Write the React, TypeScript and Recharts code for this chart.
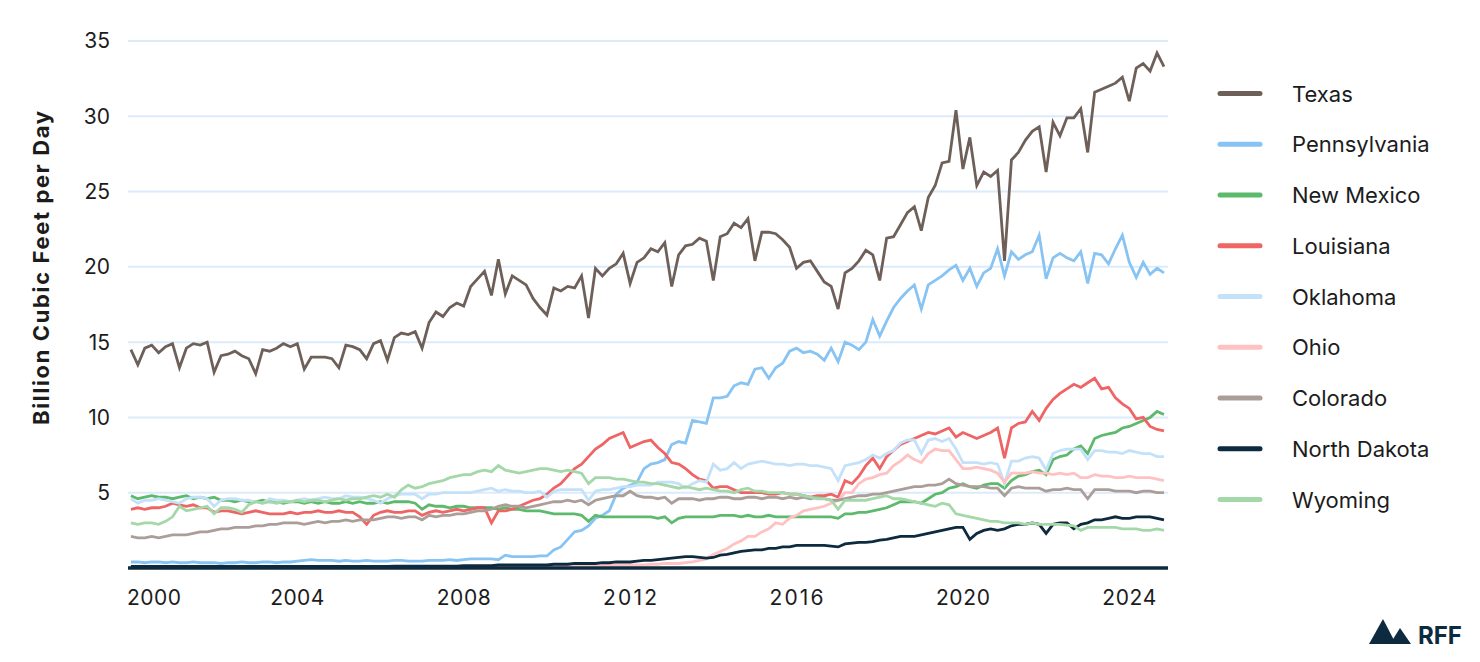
import React from 'react';
import { LineChart, Line, XAxis, YAxis, CartesianGrid } from 'recharts';

// monthly production sampled every 2 months, Jan 2000 onward (Bcf/d)
const START_YEAR = 2000;
const STEP_MONTHS = 2;

const texas = [
  14.5, 13.5, 14.6, 14.8, 14.3, 14.7, 14.9, 13.3, 14.6, 14.9, 14.8, 15.0,
  13.0, 14.1, 14.2, 14.4, 14.1, 13.9, 12.9, 14.5, 14.4, 14.6, 14.9, 14.7,
  14.9, 13.2, 14.0, 14.0, 14.0, 13.9, 13.3, 14.8, 14.7, 14.5, 13.9, 14.9,
  15.1, 13.8, 15.3, 15.6, 15.5, 15.7, 14.6, 16.3, 17.0, 16.7, 17.3, 17.6,
  17.4, 18.7, 19.2, 19.7, 18.1, 20.5, 18.2, 19.4, 19.1, 18.8, 17.9, 17.3,
  16.8, 18.6, 18.4, 18.7, 18.6, 19.4, 16.6, 19.9, 19.4, 19.9, 20.2, 20.9,
  18.9, 20.3, 20.6, 21.2, 21.0, 21.6, 18.7, 20.8, 21.4, 21.5, 21.9, 21.7,
  19.1, 22.0, 22.2, 22.9, 22.6, 23.2, 20.4, 22.3, 22.3, 22.2, 21.8, 21.3,
  19.9, 20.3, 20.4, 19.7, 19.0, 18.7, 17.2, 19.6, 19.9, 20.4, 21.1, 20.8,
  19.1, 21.9, 22.0, 22.8, 23.6, 24.0, 22.4, 24.6, 25.4, 26.9, 27.0, 30.4,
  26.5, 28.6, 25.4, 26.3, 26.0, 26.4, 20.4, 27.1, 27.6, 28.4, 29.0, 29.3,
  26.3, 29.6, 28.7, 29.9, 29.9, 30.5, 27.6, 31.6, 31.8, 32.0, 32.2, 32.6,
  31.0, 33.2, 33.5, 33.0, 34.2, 33.3,
];

const pennsylvania = [
  0.4, 0.4, 0.35, 0.4, 0.4, 0.35, 0.4, 0.35, 0.35, 0.4, 0.35, 0.35,
  0.35, 0.3, 0.35, 0.35, 0.4, 0.35, 0.35, 0.4, 0.4, 0.35, 0.4, 0.4,
  0.45, 0.5, 0.55, 0.5, 0.5, 0.5, 0.45, 0.5, 0.45, 0.45, 0.5, 0.45,
  0.45, 0.45, 0.5, 0.5, 0.45, 0.45, 0.45, 0.5, 0.5, 0.5, 0.55, 0.5,
  0.55, 0.6, 0.6, 0.6, 0.6, 0.55, 0.85, 0.75, 0.75, 0.75, 0.75, 0.8,
  0.8, 1.2, 1.4, 1.9, 2.4, 2.5, 2.8, 3.3, 3.5, 3.8, 4.9, 5.3,
  5.5, 5.7, 6.6, 6.9, 7.0, 7.2, 8.2, 8.4, 8.3, 9.8, 9.7, 9.6,
  11.3, 11.3, 11.4, 12.1, 12.3, 12.2, 13.2, 13.3, 12.6, 13.3, 13.6, 14.4,
  14.6, 14.3, 14.4, 14.2, 13.8, 14.6, 13.7, 15.0, 14.8, 14.5, 15.0, 16.5,
  15.4, 16.4, 17.3, 17.9, 18.4, 18.8, 17.2, 18.8, 19.1, 19.4, 19.8, 20.1,
  19.1, 19.9, 18.7, 19.6, 19.9, 21.2, 19.4, 21.0, 20.5, 20.8, 21.0, 22.1,
  19.2, 20.6, 20.9, 20.6, 20.4, 21.0, 18.9, 20.9, 20.8, 20.2, 21.2, 22.1,
  20.3, 19.3, 20.3, 19.5, 19.9, 19.6,
];

const newMexico = [
  4.8, 4.6, 4.7, 4.8, 4.7, 4.7, 4.6, 4.7, 4.8, 4.6, 4.7, 4.6,
  4.7, 4.5, 4.5, 4.4, 4.5, 4.4, 4.4, 4.5, 4.4, 4.4, 4.3, 4.4,
  4.4, 4.3, 4.4, 4.3, 4.4, 4.3, 4.3, 4.4, 4.3, 4.4, 4.3, 4.3,
  4.4, 4.3, 4.4, 4.4, 4.4, 4.3, 3.9, 4.2, 4.1, 4.1, 4.0, 4.1,
  4.1, 4.0, 4.0, 4.0, 4.0, 3.9, 4.0, 3.9, 3.9, 3.8, 3.8, 3.8,
  3.7, 3.6, 3.6, 3.6, 3.6, 3.5, 3.1, 3.5, 3.4, 3.4, 3.4, 3.4,
  3.4, 3.4, 3.4, 3.4, 3.3, 3.4, 3.0, 3.3, 3.4, 3.4, 3.4, 3.4,
  3.4, 3.5, 3.5, 3.5, 3.4, 3.5, 3.4, 3.4, 3.5, 3.4, 3.4, 3.4,
  3.4, 3.4, 3.4, 3.4, 3.4, 3.4, 3.3, 3.6, 3.6, 3.7, 3.7, 3.8,
  3.9, 4.0, 4.2, 4.4, 4.4, 4.4, 4.3, 4.6, 4.9, 5.0, 5.3, 5.4,
  5.6, 5.4, 5.3, 5.5, 5.6, 5.6, 5.3, 5.8, 6.1, 6.2, 6.4, 6.5,
  6.2, 7.2, 7.4, 7.5, 7.9, 8.1, 7.6, 8.6, 8.8, 8.9, 9.0, 9.3,
  9.4, 9.6, 9.8, 10.0, 10.4, 10.2,
];

const louisiana = [
  3.9, 4.0, 3.9, 4.0, 4.0, 4.1, 4.3, 4.2, 4.1, 4.2, 4.0, 4.0,
  3.7, 3.8, 3.8, 3.7, 3.6, 3.7, 3.8, 3.7, 3.6, 3.6, 3.6, 3.7,
  3.6, 3.7, 3.7, 3.8, 3.7, 3.7, 3.8, 3.7, 3.7, 3.4, 2.9, 3.5,
  3.7, 3.8, 3.7, 3.7, 3.8, 3.8, 3.5, 3.7, 3.8, 3.7, 3.8, 3.9,
  3.8, 3.9, 4.0, 4.0, 3.0, 3.8, 3.8, 3.9, 4.1, 4.3, 4.5, 4.6,
  4.9, 5.3, 5.6, 6.1, 6.6, 6.9, 7.4, 7.9, 8.2, 8.6, 8.8, 9.0,
  8.0, 8.2, 8.4, 8.5, 8.0, 7.6, 7.0, 6.9, 6.6, 6.2, 5.9, 5.8,
  5.3, 5.4, 5.4, 5.2, 5.0, 5.0, 5.0, 5.0, 4.9, 4.9, 5.0, 4.9,
  4.9, 4.8, 4.7, 4.8, 4.8, 4.9, 4.7, 5.8, 5.6, 6.1, 6.8, 7.3,
  6.6, 7.4, 7.8, 8.2, 8.4, 8.6, 8.8, 9.0, 8.9, 9.1, 9.3, 8.7,
  9.0, 8.8, 8.6, 8.8, 9.0, 9.3, 7.3, 9.3, 9.6, 9.7, 10.4, 9.8,
  10.6, 11.2, 11.6, 11.9, 12.2, 12.0, 12.3, 12.6, 11.9, 12.0, 11.3, 10.9,
  10.6, 9.9, 10.0, 9.4, 9.2, 9.1,
];

const oklahoma = [
  4.6, 4.3, 4.5, 4.5, 4.6, 4.5, 4.4, 4.3, 4.6, 4.7, 4.7, 4.6,
  4.1, 4.5, 4.6, 4.6, 4.5, 4.5, 4.4, 4.3, 4.6, 4.5, 4.5, 4.4,
  4.5, 4.6, 4.5, 4.6, 4.7, 4.6, 4.6, 4.8, 4.7, 4.7, 4.6, 4.5,
  4.3, 4.6, 4.8, 4.9, 4.9, 4.9, 4.6, 4.9, 4.9, 5.0, 5.0, 5.0,
  5.0, 5.0, 5.1, 5.2, 5.3, 5.1, 5.2, 5.1, 5.1, 5.0, 5.0, 5.1,
  4.7, 5.1, 5.2, 5.2, 5.2, 5.2, 4.5, 5.1, 5.2, 5.2, 5.3, 5.4,
  5.4, 5.5, 5.5, 5.5, 5.7, 5.7, 5.7, 5.6, 5.3, 5.6, 5.8, 5.7,
  6.9, 6.5, 6.6, 7.0, 6.6, 6.9, 7.0, 7.1, 7.0, 6.9, 6.9, 6.8,
  6.9, 6.9, 6.8, 6.8, 6.7, 6.6, 5.8, 6.8, 6.9, 7.0, 7.2, 7.5,
  7.3, 7.6, 7.8, 8.3, 8.5, 8.5, 7.6, 8.5, 8.6, 8.4, 8.6, 7.9,
  7.0, 7.0, 7.0, 6.9, 7.0, 6.9, 5.6, 7.1, 7.1, 7.3, 7.4, 7.3,
  6.5, 7.6, 7.8, 7.9, 7.9, 7.9, 7.2, 7.8, 7.8, 7.7, 7.7, 7.6,
  7.8, 7.7, 7.6, 7.6, 7.4, 7.4,
];

const ohio = [
  0.1, 0.1, 0.1, 0.1, 0.1, 0.1, 0.1, 0.1, 0.1, 0.1, 0.1, 0.1,
  0.1, 0.1, 0.1, 0.1, 0.1, 0.1, 0.1, 0.1, 0.1, 0.1, 0.1, 0.1,
  0.1, 0.1, 0.1, 0.1, 0.1, 0.1, 0.1, 0.1, 0.1, 0.1, 0.1, 0.1,
  0.1, 0.1, 0.1, 0.1, 0.1, 0.1, 0.1, 0.1, 0.1, 0.1, 0.1, 0.1,
  0.1, 0.1, 0.12, 0.12, 0.12, 0.12, 0.12, 0.12, 0.12, 0.12, 0.15, 0.15,
  0.15, 0.15, 0.15, 0.2, 0.2, 0.2, 0.2, 0.2, 0.2, 0.2, 0.2, 0.2,
  0.2, 0.2, 0.2, 0.25, 0.25, 0.3, 0.3, 0.3, 0.35, 0.4, 0.5, 0.6,
  0.9, 1.1, 1.3, 1.6, 1.8, 2.1, 2.1, 2.4, 2.6, 3.0, 2.9, 3.3,
  3.5, 3.8, 3.9, 4.0, 4.1, 4.3, 4.5, 5.0, 5.0, 5.6, 5.9, 6.0,
  6.2, 6.3, 6.8, 7.1, 7.5, 7.2, 7.0, 7.6, 7.9, 7.8, 7.8, 7.2,
  6.6, 6.6, 6.7, 6.6, 6.5, 6.3, 5.7, 6.3, 6.3, 6.3, 6.4, 6.3,
  6.3, 6.2, 6.3, 6.2, 6.3, 6.0, 6.0, 6.2, 6.1, 6.1, 6.0, 6.0,
  6.1, 6.0, 6.0, 6.0, 5.9, 5.8,
];

const colorado = [
  2.1, 2.0, 2.0, 2.1, 2.0, 2.1, 2.2, 2.2, 2.2, 2.3, 2.4, 2.4,
  2.5, 2.6, 2.6, 2.7, 2.7, 2.7, 2.8, 2.8, 2.9, 2.9, 3.0, 3.0,
  3.0, 2.9, 3.0, 3.1, 3.0, 3.1, 3.1, 3.2, 3.1, 3.2, 3.2, 3.2,
  3.3, 3.4, 3.4, 3.3, 3.4, 3.4, 3.2, 3.5, 3.4, 3.5, 3.5, 3.6,
  3.6, 3.7, 3.8, 3.8, 3.9, 4.1, 4.2, 4.1, 4.1, 4.0, 4.1, 4.2,
  4.3, 4.4, 4.4, 4.5, 4.4, 4.5, 4.2, 4.5, 4.6, 4.7, 4.8, 4.8,
  5.1, 4.8, 4.7, 4.7, 4.6, 4.7, 4.3, 4.6, 4.6, 4.6, 4.5, 4.6,
  4.6, 4.7, 4.7, 4.6, 4.6, 4.7, 4.7, 4.6, 4.7, 4.7, 4.6, 4.7,
  4.6, 4.7, 4.6, 4.7, 4.6, 4.5, 4.5, 4.6, 4.7, 4.8, 4.8, 4.9,
  4.9, 5.0, 5.1, 5.2, 5.3, 5.4, 5.4, 5.5, 5.5, 5.6, 5.9, 5.6,
  5.5, 5.4, 5.4, 5.4, 5.3, 5.3, 4.8, 5.3, 5.4, 5.3, 5.3, 5.3,
  5.1, 5.2, 5.2, 5.3, 5.2, 5.2, 4.6, 5.2, 5.2, 5.2, 5.1, 5.1,
  5.1, 5.0, 5.1, 5.1, 5.0, 5.0,
];

const northDakota = [
  0.1, 0.1, 0.1, 0.1, 0.1, 0.1, 0.1, 0.1, 0.1, 0.1, 0.1, 0.1,
  0.1, 0.1, 0.1, 0.1, 0.1, 0.1, 0.1, 0.1, 0.1, 0.1, 0.1, 0.1,
  0.1, 0.1, 0.1, 0.1, 0.1, 0.1, 0.1, 0.1, 0.1, 0.1, 0.1, 0.1,
  0.1, 0.1, 0.12, 0.12, 0.12, 0.12, 0.12, 0.12, 0.12, 0.12, 0.12, 0.12,
  0.15, 0.15, 0.15, 0.15, 0.15, 0.2, 0.2, 0.2, 0.2, 0.2, 0.2, 0.2,
  0.2, 0.25, 0.25, 0.25, 0.3, 0.3, 0.3, 0.3, 0.35, 0.35, 0.4, 0.4,
  0.4, 0.45, 0.5, 0.5, 0.55, 0.6, 0.65, 0.7, 0.75, 0.75, 0.7, 0.65,
  0.7, 0.85, 0.9, 1.0, 1.1, 1.15, 1.2, 1.2, 1.3, 1.3, 1.4, 1.4,
  1.5, 1.5, 1.5, 1.5, 1.5, 1.45, 1.4, 1.6, 1.65, 1.7, 1.7, 1.75,
  1.85, 1.9, 2.0, 2.1, 2.1, 2.1, 2.2, 2.3, 2.4, 2.5, 2.6, 2.7,
  2.7, 1.9, 2.3, 2.5, 2.6, 2.5, 2.6, 2.8, 2.9, 2.9, 3.0, 2.9,
  2.3, 2.9, 3.0, 3.0, 2.6, 2.9, 3.0, 3.2, 3.2, 3.3, 3.4, 3.3,
  3.3, 3.4, 3.4, 3.4, 3.3, 3.2,
];

const wyoming = [
  3.0, 2.9, 3.0, 3.0, 2.9, 3.1, 3.4, 4.1, 3.8, 3.9, 4.0, 4.1,
  3.6, 4.0, 4.0, 3.9, 3.7, 4.2, 4.4, 4.3, 4.4, 4.3, 4.4, 4.4,
  4.5, 4.4, 4.5, 4.5, 4.4, 4.5, 4.6, 4.5, 4.6, 4.6, 4.7, 4.8,
  4.7, 4.9, 4.7, 5.2, 5.5, 5.3, 5.4, 5.6, 5.7, 5.8, 6.0, 6.1,
  6.2, 6.2, 6.4, 6.5, 6.4, 6.8, 6.5, 6.4, 6.3, 6.4, 6.5, 6.6,
  6.6, 6.5, 6.4, 6.5, 6.4, 6.3, 5.6, 6.0, 6.0, 6.0, 5.9, 5.9,
  5.8, 5.7, 5.7, 5.6, 5.6, 5.5, 5.4, 5.3, 5.4, 5.3, 5.2, 5.3,
  5.2, 5.1, 5.1, 5.0, 5.2, 5.3, 5.1, 5.1, 5.0, 5.0, 5.0, 4.9,
  4.9, 4.8, 4.7, 4.6, 4.6, 4.5, 3.9, 4.5, 4.5, 4.5, 4.5, 4.6,
  4.7, 4.8, 4.6, 4.6, 4.5, 4.4, 4.3, 4.2, 4.1, 4.3, 4.2, 3.6,
  3.5, 3.4, 3.3, 3.2, 3.1, 3.1, 3.0, 3.0, 3.0, 2.9, 3.0, 2.9,
  2.9, 2.9, 2.9, 2.85, 2.8, 2.5, 2.7, 2.7, 2.7, 2.7, 2.7, 2.6,
  2.6, 2.6, 2.5, 2.5, 2.6, 2.5,
];

const yearTicks = [2000, 2004, 2008, 2012, 2016, 2020, 2024];
const valueTicks = [5, 10, 15, 20, 25, 30, 35];

const series = [
  { key: 'texas', name: 'Texas', color: '#6e6059', values: texas },
  { key: 'pennsylvania', name: 'Pennsylvania', color: '#87c3f3', values: pennsylvania },
  { key: 'newMexico', name: 'New Mexico', color: '#5db96b', values: newMexico },
  { key: 'louisiana', name: 'Louisiana', color: '#ef6464', values: louisiana },
  { key: 'oklahoma', name: 'Oklahoma', color: '#c4e1fa', values: oklahoma },
  { key: 'ohio', name: 'Ohio', color: '#ffc1c1', values: ohio },
  { key: 'colorado', name: 'Colorado', color: '#ab9e99', values: colorado },
  { key: 'northDakota', name: 'North Dakota', color: '#0d2a3e', values: northDakota },
  { key: 'wyoming', name: 'Wyoming', color: '#a5d8a8', values: wyoming },
];

const data = texas.map((_, i) => {
  const row: Record<string, number> = { t: START_YEAR + (i * STEP_MONTHS) / 12 };
  series.forEach((s) => {
    row[s.key] = s.values[i];
  });
  return row;
});

const FONT = 'Inter, "Noto Sans", sans-serif';
const TEXT = '#1c1c1c';
const NAVY = '#0d2a3e';

const YearTick = (props: any) => {
  const { x, y, payload, index } = props;
  const first = index === 0;
  return (
    <text
      x={first ? x - 4 : x}
      y={y}
      dy="0.71em"
      textAnchor={first ? 'start' : 'middle'}
      fill={TEXT}
      fontSize={21}
      fontFamily={FONT}
      textLength={54}
      lengthAdjust="spacing"
    >
      {payload.value}
    </text>
  );
};

const App: React.FC = () => {
  return (
    <div
      style={{
        position: 'absolute',
        left: 0,
        top: 0,
        width: 1480,
        height: 662,
        background: '#ffffff',
        fontFamily: FONT,
      }}
    >
      <svg width={1480} height={662} style={{ position: 'absolute', left: 0, top: 0 }}>
        <text
          x={41}
          y={268}
          transform="rotate(-90 41 268)"
          textAnchor="middle"
          dominantBaseline="central"
          fontSize={22}
          fontWeight={700}
          fill={TEXT}
          fontFamily={FONT}
          textLength={314}
          lengthAdjust="spacing"
        >
          Billion Cubic Feet per Day
        </text>

        {series.map((s, i) => {
          const cy = 93.5 + i * 50.75;
          return (
            <g key={s.key}>
              <line x1={1220} x2={1260} y1={cy} y2={cy} stroke={s.color} strokeWidth={5} strokeLinecap="round" />
              <text x={1292} y={cy} dominantBaseline="central" fontSize={22} fill={TEXT} fontFamily={FONT}>
                {s.name}
              </text>
            </g>
          );
        })}

        <polygon points="1369,644 1383,619 1396,644" fill={NAVY} />
        <polygon points="1390,644 1400,628 1411,644" fill={NAVY} />
        <text x={1418} y={644} fontSize={24} fontWeight={700} fill={NAVY} fontFamily={FONT}>
          RFF
        </text>
      </svg>

      <div style={{ position: 'absolute', left: 0, top: 0 }}>
        <LineChart
          width={1180}
          height={662}
          data={data}
          margin={{ top: 41, right: 12, bottom: 62, left: 0 }}
        >
          <CartesianGrid vertical={false} stroke="#dcebfa" strokeWidth={2} />
          <XAxis
            dataKey="t"
            type="number"
            domain={[1999.93, 2024.93]}
            ticks={yearTicks}
            height={32}
            tickLine={false}
            tickMargin={16}
            axisLine={{ stroke: NAVY, strokeWidth: 3.5 }}
            tick={<YearTick />}
            allowDataOverflow
          />
          <YAxis
            type="number"
            domain={[0, 35]}
            ticks={valueTicks}
            width={128}
            tickLine={false}
            axisLine={false}
            tickMargin={12}
            tick={{ fill: TEXT, fontSize: 21, fontFamily: FONT }}
          />
          {series.map((s) => (
            <Line
              key={s.key}
              type="linear"
              dataKey={s.key}
              name={s.name}
              stroke={s.color}
              strokeWidth={2.8}
              dot={false}
              isAnimationActive={false}
            />
          ))}
        </LineChart>
      </div>
    </div>
  );
};

export default App;
